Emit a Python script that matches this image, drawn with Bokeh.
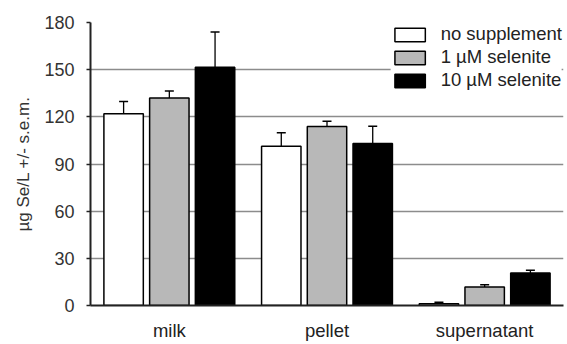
from bokeh.plotting import figure
from bokeh.models import ColumnDataSource, FactorRange, Range1d, FixedTicker, Whisker, TeeHead, Legend
from bokeh.transform import dodge
from bokeh.embed import file_html
from bokeh.resources import INLINE

categories = ["milk", "pellet", "supernatant"]
series_names = ["no supplement", "1 \u00b5M selenite", "10 \u00b5M selenite"]
no_supp = [122, 101.3, 1.1]
no_supp_sem = [7.8, 8.6, 1.0]
sel1 = [132, 113.9, 11.7]
sel1_sem = [4.5, 3.3, 1.5]
sel10 = [151.6, 103, 20.6]
sel10_sem = [22.4, 11, 1.8]
y_ticks = [0, 30, 60, 90, 120, 150, 180]

FONT = "Liberation Sans"
FS = "18.5px"

p = figure(x_range=FactorRange(*categories, range_padding=0), y_range=Range1d(0, 180),
           width=567, height=344, output_backend="svg", toolbar_location=None,
           min_border_left=90, min_border_right=4, min_border_top=22, min_border_bottom=39)
p.x_range.range_padding = 0
p.outline_line_color = None
p.background_fill_color = "white"

series = [(no_supp, no_supp_sem, "white", -0.29),
          (sel1, sel1_sem, "#b8b8b8", 0.0),
          (sel10, sel10_sem, "black", 0.29)]

renderers = []
for (vals, sems, color, off), name in zip(series, series_names):
    src = ColumnDataSource(dict(cat=categories, top=vals,
                                upper=[v + s for v, s in zip(vals, sems)]))
    r = p.vbar(x=dodge("cat", off, range=p.x_range), top="top", width=0.25, source=src,
               fill_color=color, line_color="black", line_width=1.5)
    renderers.append((name, [r]))
    w = Whisker(base=dodge("cat", off, range=p.x_range), lower="top", upper="upper", source=src,
                line_color="black", line_width=1.3, lower_head=None,
                upper_head=TeeHead(size=9, line_color="black", line_width=1.5))
    p.add_layout(w)

legend = Legend(items=renderers, location="top_right", margin=1, padding=6,
                glyph_width=38, glyph_height=17, label_standoff=12, spacing=1,
                label_text_font=FONT, label_text_font_size=FS, label_text_color="#222222",
                border_line_color=None, background_fill_color="white", background_fill_alpha=1.0)
p.add_layout(legend)

p.yaxis.ticker = FixedTicker(ticks=y_ticks)
p.ygrid.ticker = FixedTicker(ticks=y_ticks)
p.xgrid.grid_line_color = None
p.ygrid.grid_line_color = "#8c8c8c"
p.ygrid.grid_line_width = 1.5

p.yaxis.axis_label = "\u00b5g Se/L +/- s.e.m."
p.yaxis.axis_label_text_font = FONT
p.yaxis.axis_label_text_font_size = "17px"
p.yaxis.axis_label_text_font_style = "normal"
p.yaxis.axis_label_text_color = "#333333"
p.yaxis.axis_label_standoff = 8
p.yaxis.major_label_text_font = FONT
p.yaxis.major_label_text_font_size = "18px"
p.yaxis.major_label_text_color = "#333333"
p.yaxis.major_tick_out = 4
p.yaxis.major_tick_in = 0
p.yaxis.minor_tick_line_color = None
p.yaxis.major_label_standoff = 12
p.yaxis.axis_line_width = 2
p.yaxis.axis_line_color = "#222222"
p.yaxis.major_tick_line_color = "#222222"
p.yaxis.major_tick_line_width = 1.5

p.xaxis.major_label_text_font = FONT
p.xaxis.major_label_text_font_size = FS
p.xaxis.major_label_text_color = "#222222"
p.xaxis.major_tick_line_color = None
p.xaxis.major_tick_out = 0
p.xaxis.major_label_standoff = 14
p.xaxis.axis_line_width = 2
p.xaxis.axis_line_color = "#222222"

open("out.html", "w").write(file_html(p, INLINE))
